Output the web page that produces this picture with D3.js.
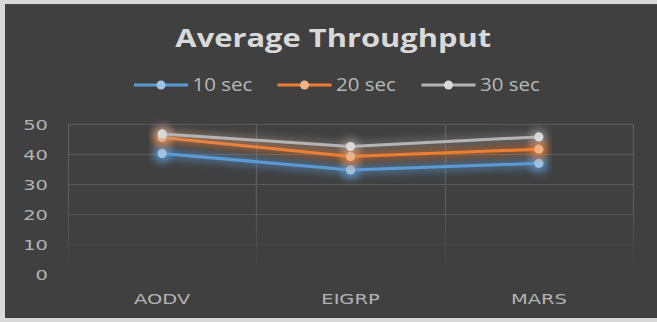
<!DOCTYPE html>
<html>
<head>
<meta charset="utf-8">
<script src="https://cdn.jsdelivr.net/npm/d3@7"></script>
<style>
  html, body { margin: 0; padding: 0; background: #d9d9d9; }
  svg { display: block; }
</style>
</head>
<body>
<script>
// Chart data
const categories = ["AODV", "EIGRP", "MARS"];
const seriesNames = ["10 sec", "20 sec", "30 sec"];
const values10 = [40.3, 34.8, 37.0];
const values20 = [45.6, 39.3, 41.7];
const values30 = [46.8, 42.6, 45.8];
const yTicks = [0, 10, 20, 30, 40, 50];
const titleText = "Average Throughput";

const lineColors = ["#5b9bd5", "#ed7d31", "#b4b4b4"];
const markerColors = ["#9dc3e6", "#f4b183", "#d9d9d9"];
const glowStrength = [0.8, 0.8, 0.45];
const series = [values10, values20, values30].map((v, i) => ({
  name: seriesNames[i], values: v, line: lineColors[i], marker: markerColors[i], glow: glowStrength[i]
}));

const W = 657, H = 322;
const plot = { left: 68, right: 633, top: 124.3, bottom: 274.3 };
const axisFont = "'DejaVu Sans', sans-serif";
const axisStretch = 1.35;

const svg = d3.select("body").append("svg").attr("width", W).attr("height", H);
const defs = svg.append("defs");

// soft glow behind each series
series.forEach((s, i) => {
  const f = defs.append("filter").attr("id", "glow" + i)
    .attr("x", "-20%").attr("y", "-100%").attr("width", "140%").attr("height", "300%");
  f.append("feGaussianBlur").attr("in", "SourceGraphic").attr("stdDeviation", 4.5);
});

// vertical gridlines fade toward the bottom
const vg = defs.append("linearGradient").attr("id", "vfade")
  .attr("gradientUnits", "userSpaceOnUse")
  .attr("x1", 0).attr("x2", 0).attr("y1", plot.top).attr("y2", plot.bottom - 6);
vg.append("stop").attr("offset", 0).attr("stop-color", "#5e5e5e").attr("stop-opacity", 1);
vg.append("stop").attr("offset", 0.55).attr("stop-color", "#5e5e5e").attr("stop-opacity", 0.9);
vg.append("stop").attr("offset", 1).attr("stop-color", "#5e5e5e").attr("stop-opacity", 0);

// chart background
svg.append("rect").attr("x", 5).attr("y", 4).attr("width", W - 5).attr("height", 314)
  .attr("fill", "#404040");
svg.append("line").attr("x1", 5).attr("x2", W).attr("y1", 4.5).attr("y2", 4.5)
  .attr("stroke", "#4a4a4a");

const x = d3.scaleBand().domain(categories).range([plot.left, plot.right]);
const y = d3.scaleLinear().domain([0, 50]).range([plot.bottom, plot.top]);

// horizontal gridlines, fading for lower values
const gridOpacity = v => v === 0 ? 0 : (v <= 10 ? 0.35 : (v <= 20 ? 0.75 : 1));
svg.append("g").selectAll("line").data(yTicks).join("line")
  .attr("x1", plot.left).attr("x2", plot.right)
  .attr("y1", d => Math.round(y(d)) + 0.5).attr("y2", d => Math.round(y(d)) + 0.5)
  .attr("stroke", "#5a5a5a").attr("stroke-width", 1.2)
  .attr("stroke-opacity", gridOpacity);

// vertical gridlines at category boundaries
const bounds = categories.map(c => x(c)).concat([plot.right]);
svg.append("g").selectAll("line").data(bounds).join("line")
  .attr("x1", d => Math.round(d) + 0.5).attr("x2", d => Math.round(d) + 0.5)
  .attr("y1", plot.top).attr("y2", plot.bottom - 6)
  .attr("stroke", "url(#vfade)").attr("stroke-width", 1.2);

// y axis labels
const yAxis = d3.axisLeft(y).tickValues(yTicks).tickSize(0).tickPadding(0);
const yg = svg.append("g").attr("transform", `translate(48,0)`).call(yAxis);
yg.select(".domain").remove();
yg.selectAll("text").attr("fill", "#b3b3b3").attr("x", 0)
  .style("font-family", axisFont).style("font-size", "14.4px")
  .attr("dy", "0.36em").attr("transform", `scale(${axisStretch},1)`);

// x axis labels
const xAxis = d3.axisBottom(x).tickSize(0).tickPadding(0);
const xg = svg.append("g").attr("transform", `translate(0,304)`).call(xAxis);
xg.select(".domain").remove();
xg.selectAll("text").attr("fill", "#b3b3b3").attr("y", 0).attr("dy", 0)
  .style("font-family", axisFont).style("font-size", "14.4px")
  .attr("transform", `scale(${axisStretch},1)`);

// series lines and markers
const cx = i => x(categories[i]) + x.bandwidth() / 2;
const line = d3.line().x((d, i) => cx(i)).y(d => y(d));
const sg = svg.append("g").selectAll("g").data(series).join("g");
sg.append("path").attr("d", d => line(d.values)).attr("fill", "none")
  .attr("stroke", d => d.line).attr("stroke-width", 8).attr("stroke-linecap", "round")
  .attr("filter", (d, i) => `url(#glow${i})`).attr("opacity", d => d.glow * 0.75);
sg.selectAll("circle.glow").data((d, si) => d.values.map(v => ({ v, s: d, si }))).join("circle")
  .attr("class", "glow")
  .attr("cx", (d, i) => cx(i)).attr("cy", d => y(d.v))
  .attr("r", 9).attr("fill", d => d.s.line)
  .attr("filter", d => `url(#glow${d.si})`).attr("opacity", d => d.s.glow);
sg.append("path").attr("d", d => line(d.values)).attr("fill", "none")
  .attr("stroke", d => d.line).attr("stroke-width", 3).attr("stroke-linejoin", "round");
sg.selectAll("circle.pt").data(d => d.values.map(v => ({ v, s: d }))).join("circle")
  .attr("class", "pt")
  .attr("cx", (d, i) => cx(i)).attr("cy", d => y(d.v))
  .attr("r", 4.6).attr("fill", d => d.s.marker);

// title
svg.append("g").attr("transform", "translate(333.3,46.7)")
  .append("text").attr("text-anchor", "middle").attr("transform", "scale(1.26,1)")
  .attr("fill", "#d9d9d9").style("font-family", "'Open Sans', sans-serif")
  .style("font-size", "24.5px").style("font-weight", "bold").text(titleText);

// legend
const legendX = [134, 277.5, 421.5];
const lg = svg.append("g").selectAll("g").data(series).join("g")
  .attr("transform", (d, i) => `translate(${legendX[i]},85)`);
lg.append("line").attr("x1", 0).attr("x2", 54).attr("y1", 0).attr("y2", 0)
  .attr("stroke", d => d.line).attr("stroke-width", 3);
lg.append("circle").attr("cx", 27).attr("cy", 0).attr("r", 4.5).attr("fill", d => d.marker);
lg.append("text").attr("x", 58.5 / 1.17).attr("y", 0).attr("dy", "0.36em")
  .attr("transform", "scale(1.17,1)")
  .attr("fill", "#b8b8b8").style("font-family", "'Open Sans', sans-serif")
  .style("font-size", "17.5px").text(d => d.name);
</script>
</body>
</html>
